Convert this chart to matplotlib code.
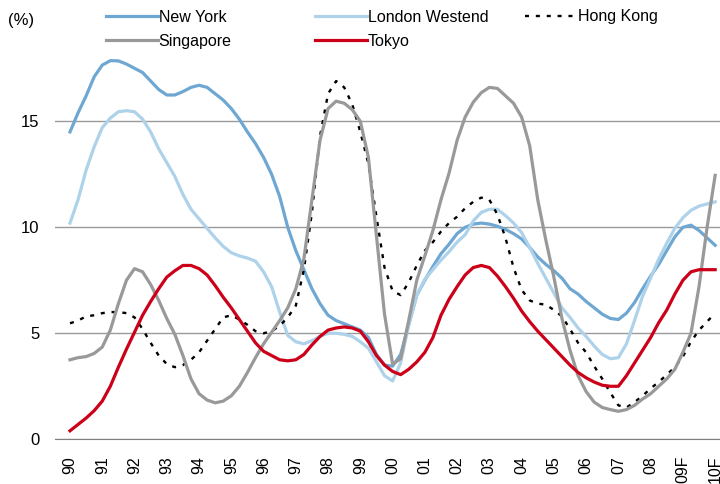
import numpy as np
import matplotlib
matplotlib.use('Agg')
import matplotlib.pyplot as plt

# quarterly values, 1990 Q1 .. 2010 Q1 (81 points), in %
new_york = [14.5, 15.4, 16.2, 17.1, 17.65, 17.86, 17.85, 17.7, 17.5, 17.3, 16.9, 16.5, 16.24,
            16.24, 16.4, 16.6, 16.7, 16.6, 16.3, 16.0, 15.6, 15.1, 14.5, 13.95, 13.3, 12.5,
            11.45, 10.0, 8.9, 8.0, 7.1, 6.4, 5.85, 5.6, 5.45, 5.3, 5.15,
            4.8, 4.0, 3.5, 3.45, 4.0, 5.4, 6.8, 7.5, 8.15, 8.75, 9.2, 9.7, 10.0, 10.15, 10.2,
            10.15, 10.05, 9.9, 9.7, 9.45, 9.05, 8.6, 8.25, 7.95, 7.6, 7.1, 6.85, 6.5, 6.2, 5.9,
            5.7, 5.65, 5.95, 6.45, 7.1, 7.7, 8.25, 8.9, 9.55, 10.0, 10.1, 9.85, 9.5, 9.15]
london = [10.2, 11.3, 12.7, 13.8, 14.7, 15.15, 15.45, 15.5, 15.45, 15.1, 14.5, 13.7, 13.05,
          12.4, 11.55, 10.85, 10.4, 9.95, 9.5, 9.1, 8.8, 8.65, 8.55, 8.4, 7.9, 7.2, 6.0, 4.9,
          4.6, 4.5, 4.65, 4.85, 5.0, 5.0, 4.95, 4.85, 4.6,
          4.3, 3.65, 3.0, 2.75, 3.6, 5.4, 6.8, 7.55, 8.0, 8.45, 8.85, 9.3, 9.65, 10.3, 10.7,
          10.85, 10.85, 10.55, 10.2, 9.75, 9.05, 8.3, 7.6, 6.9, 6.2, 5.75, 5.25, 4.85, 4.4,
          4.0, 3.8, 3.85, 4.5, 5.6, 6.75, 7.6, 8.5, 9.25, 9.95, 10.45, 10.8, 11.0, 11.1, 11.2]
hong_kong = [5.47, 5.6, 5.8, 5.85, 5.95, 6.0, 6.0, 5.95, 5.75, 5.2, 4.55, 3.95, 3.55, 3.4,
             3.5, 3.75, 4.1, 4.65, 5.2, 5.75, 5.85, 5.65, 5.4, 5.1, 5.0, 5.1, 5.35, 5.75, 6.3,
             8.0, 10.7, 14.3, 16.3, 16.9, 16.6, 15.8, 14.5,
             13.0, 10.5, 8.1, 7.0, 6.8, 7.4, 8.2, 8.9, 9.3, 9.8, 10.2, 10.5, 10.9, 11.2, 11.4,
             11.3, 10.6, 9.5, 8.1, 7.05, 6.55, 6.4, 6.35, 6.1, 5.8, 5.2, 4.55, 4.1, 3.45, 2.85,
             2.2, 1.6, 1.5, 1.75, 2.05, 2.4, 2.7, 3.05, 3.4, 3.9, 4.6, 5.15, 5.55, 5.95]
singapore = [3.75, 3.85, 3.9, 4.05, 4.35, 5.15, 6.4, 7.5, 8.05, 7.9, 7.3, 6.55, 5.7, 4.95,
             3.95, 2.85, 2.15, 1.85, 1.72, 1.8, 2.05, 2.5, 3.15, 3.85, 4.5, 5.05, 5.6, 6.2,
             7.1, 8.5, 11.3, 14.1, 15.6, 15.95, 15.85, 15.55, 15.0,
             13.3, 9.6, 5.9, 3.55, 3.8, 5.6, 7.5, 8.65, 9.85, 11.3, 12.55, 14.1, 15.2, 15.9,
             16.35, 16.6, 16.55, 16.2, 15.85, 15.2, 13.85, 11.3, 9.4, 7.65, 5.7, 4.2, 3.0, 2.25,
             1.75, 1.5, 1.4, 1.32, 1.4, 1.6, 1.9, 2.15, 2.5, 2.85, 3.3, 4.1, 5.0, 7.2, 10.0, 12.45]
tokyo = [0.4, 0.7, 1.0, 1.35, 1.8, 2.5, 3.4, 4.25, 5.05, 5.85, 6.5, 7.1, 7.65, 7.95, 8.2,
         8.2, 8.05, 7.75, 7.25, 6.7, 6.2, 5.65, 5.1, 4.55, 4.15, 3.95, 3.75, 3.7, 3.75, 4.0,
         4.45, 4.85, 5.15, 5.25, 5.3, 5.25, 5.1,
         4.6, 3.95, 3.5, 3.2, 3.05, 3.3, 3.65, 4.1, 4.8, 5.85, 6.6, 7.2, 7.75, 8.1, 8.2, 8.1,
         7.7, 7.2, 6.65, 6.05, 5.55, 5.1, 4.7, 4.3, 3.9, 3.5, 3.15, 2.9, 2.7, 2.55, 2.5, 2.5,
         3.0, 3.6, 4.2, 4.8, 5.5, 6.1, 6.85, 7.5, 7.9, 8.0, 8.0, 8.0]
year_labels = ['90', '91', '92', '93', '94', '95', '96', '97', '98', '99', '00', '01', '02',
               '03', '04', '05', '06', '07', '08', '09F', '10F']

plt.rcParams['font.family'] = ['Liberation Sans', 'DejaVu Sans']

fig = plt.figure(figsize=(7.2, 4.84), dpi=100)
ax = fig.add_axes([55 / 720, 0.0924, 1 - 55 / 720, 0.9246 - 0.0924])

q = np.arange(len(new_york))
lw = 2.3
l_ny, = ax.plot(q, new_york, color='#6fa7d3', lw=lw, label='New York')
l_ld, = ax.plot(q, london, color='#add2ea', lw=lw, label='London Westend')
l_hk, = ax.plot(q, hong_kong, color='black', lw=1.7, ls=(0, (1.7, 2.9)), label='Hong Kong')
l_sg, = ax.plot(q, singapore, color='#999999', lw=lw, label='Singapore')
l_tk, = ax.plot(q, tokyo, color='#cc0018', lw=lw, label='Tokyo')

ax.set_xlim(-1.86, 80.6)
ax.set_ylim(0, 19)
ax.set_xticks(np.arange(0, 81, 4))
ax.set_xticklabels(year_labels, rotation=90, fontsize=11.5)
ax.set_yticks([0, 5, 10, 15])
ax.set_yticklabels(['0', '5', '10', '15'], fontsize=12)
ax.tick_params(axis='x', length=0, pad=12)
ax.tick_params(axis='y', length=0, pad=11)
for s in ['top', 'right', 'left']:
    ax.spines[s].set_visible(False)
ax.spines['bottom'].set_color('#808080')
ax.yaxis.grid(True, color='#9a9a9a', lw=1)
ax.set_axisbelow(True)

fig.text(8 / 720, 1 - 21 / 484, '(%)', fontsize=12, va='center', ha='left')

# one legend per column, no frame
cols = [([l_ny, l_sg], 106), ([l_ld, l_tk], 315), ([l_hk], 525)]
for handles, xpx in cols:
    fig.legend(handles=handles, loc='upper left', bbox_to_anchor=(xpx / 720, 1 - 9.5 / 484),
               frameon=False, fontsize=11.5, handlelength=3.25, handletextpad=0.05,
               borderpad=0, borderaxespad=0, labelspacing=0.58)

fig.savefig('out.png', dpi=100)
